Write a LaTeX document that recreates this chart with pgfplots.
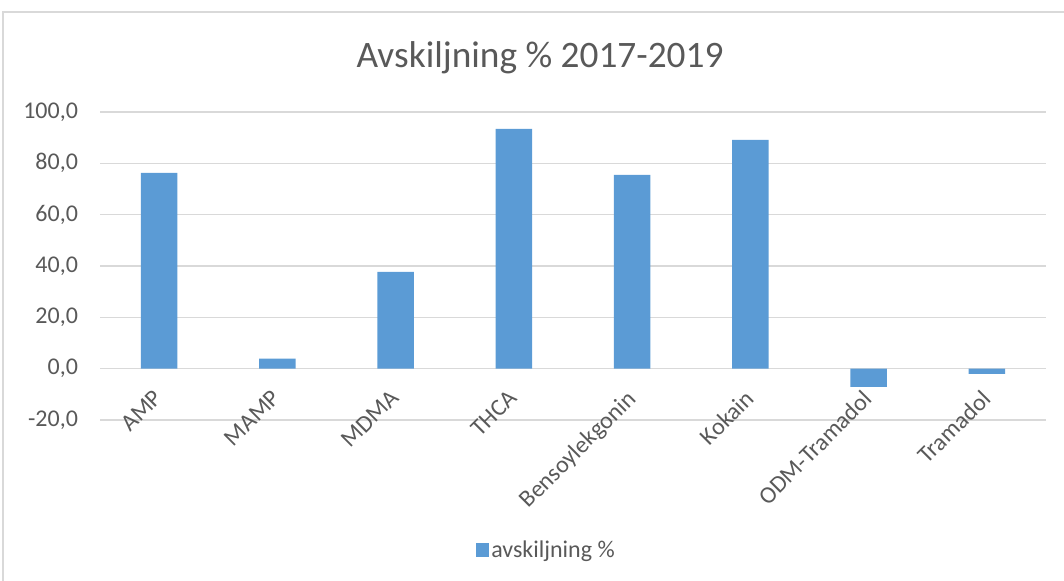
\documentclass[border=0pt]{standalone}
\usepackage{pgfplots}
\pgfplotsset{compat=1.18}
\usepackage{fontspec}
\setmainfont{Carlito}
\definecolor{barblue}{HTML}{5B9BD5}
\definecolor{txtgray}{HTML}{595959}
\definecolor{gridgray}{HTML}{D9D9D9}
\begin{document}
\begin{tikzpicture}
\useasboundingbox (0,0) rectangle (798pt,-435.75pt);
\draw[gridgray, line width=1pt] (2.25pt,-435.75pt) -- (2.25pt,-9pt) -- (798pt,-9pt);
\node[txtgray, font=\fontsize{28}{33}\selectfont, anchor=base] at (405pt,-51pt) {Avskiljning \% 2017-2019};
\begin{axis}[
  at={(75pt,-315pt)}, anchor=south west,
  scale only axis, width=709.5pt, height=231pt,
  xmin=-0.5, xmax=7.5, ymin=-20, ymax=100,
  ytick={-20,0,20,40,60,80,100},
  xtick={0,1,2,3,4,5,6,7},
  xticklabels={AMP,MAMP,MDMA,THCA,Bensoylekgonin,Kokain,ODM-Tramadol,Tramadol},
  axis x line*=middle, axis y line*=left,
  x axis line style={draw=none}, y axis line style={draw=none},
  major tick length=0pt,
  ymajorgrids, grid style={gridgray, line width=1pt},
  tick label style={txtgray, font=\fontsize{18}{21}\selectfont},
  /pgf/number format/assume math mode=true,
  yticklabel={\pgfmathprintnumber[fixed,zerofill,precision=1,use comma]{\tick}},
  yticklabel style={anchor=east, xshift=-13pt},
  xticklabel style={xshift=-5pt, yshift=-10pt, rotate=45, anchor=north east},
  legend style={at={(0.472,-0.422)}, anchor=center, draw=none, fill=none,
    font=\fontsize{18}{21}\selectfont, text=txtgray},
  legend image code/.code={\fill[barblue] (0pt,-4.9pt) rectangle (9.75pt,4.9pt);},
]
\addplot[ybar, bar width=0.31, fill=barblue, draw=none] coordinates {
 (0,76.3) (1,3.9) (2,37.7) (3,93.4) (4,75.5) (5,89.1) (6,-7.1) (7,-2.0)};
\addlegendentry{avskiljning \%}
\end{axis}
\end{tikzpicture}
\end{document}
